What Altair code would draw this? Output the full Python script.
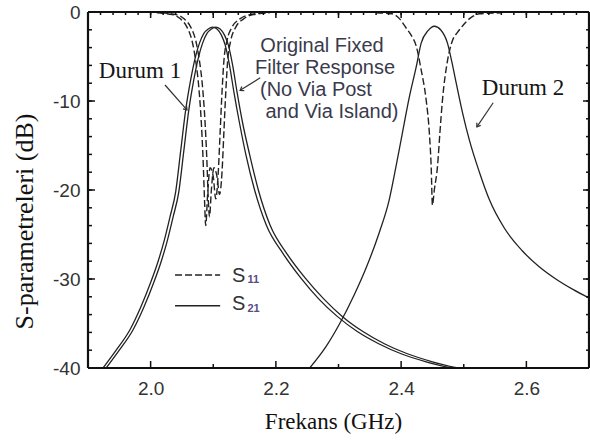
import altair as alt
import pandas as pd

# ---------------- data ----------------
# Durum 1, S21 (solid)
d1_s21_f = [1.924, 1.945, 1.967, 1.984, 2.000, 2.012, 2.022, 2.031, 2.040, 2.048, 2.056, 2.064,
            2.071, 2.078, 2.085, 2.092, 2.099, 2.106, 2.113, 2.119, 2.126, 2.133, 2.142, 2.152,
            2.166, 2.185, 2.212, 2.240, 2.268, 2.298, 2.330, 2.365, 2.400, 2.440, 2.480]
d1_s21_db = [-40.0, -38.0, -35.7, -33.2, -30.4, -28.0, -25.6, -23.0, -20.2, -15.6, -11.0, -7.6,
             -5.2, -3.5, -2.4, -1.9, -1.7, -1.9, -2.6, -3.7, -6.0, -9.0, -12.5, -16.0,
             -20.0, -24.0, -27.2, -29.9, -32.2, -34.2, -35.9, -37.3, -38.4, -39.3, -40.0]
# Original fixed filter, S21 (solid)
or_s21_f = [1.929, 1.950, 1.972, 1.989, 2.005, 2.017, 2.027, 2.036, 2.045, 2.053, 2.061, 2.069,
            2.076, 2.083, 2.090, 2.097, 2.104, 2.111, 2.118, 2.124, 2.131, 2.138, 2.147, 2.158,
            2.172, 2.191, 2.218, 2.247, 2.276, 2.306, 2.339, 2.374, 2.410, 2.450, 2.490]
or_s21_db = [-40.0, -38.0, -35.7, -33.2, -30.4, -28.0, -25.6, -23.0, -20.2, -15.6, -11.0, -7.6,
             -5.2, -3.5, -2.4, -1.9, -1.7, -1.9, -2.6, -3.7, -6.0, -9.0, -12.5, -16.0,
             -20.0, -24.0, -27.2, -29.9, -32.2, -34.2, -35.9, -37.3, -38.4, -39.3, -40.0]
# Durum 2, S21 (solid)
d2_s21_f = [2.254, 2.280, 2.302, 2.325, 2.345, 2.365, 2.381, 2.392, 2.402, 2.413, 2.424, 2.432,
            2.443, 2.453, 2.463, 2.474, 2.481, 2.488, 2.498, 2.509, 2.525, 2.541, 2.565, 2.593,
            2.620, 2.647, 2.675, 2.702]
d2_s21_db = [-40.0, -37.6, -35.0, -31.8, -28.6, -24.8, -21.1, -17.3, -13.6, -9.6, -6.2, -3.5,
             -2.1, -1.6, -2.0, -3.5, -5.6, -8.0, -11.3, -14.4, -18.0, -21.1, -24.3, -26.8,
             -28.6, -30.0, -31.2, -32.2]
# Durum 1, S11 (dashed)
d1_s11_f = [2.010, 2.035, 2.048, 2.058, 2.066, 2.072, 2.077, 2.081, 2.084, 2.086, 2.088, 2.091,
            2.095, 2.100, 2.104, 2.108, 2.111, 2.114, 2.117, 2.122, 2.130, 2.142, 2.158, 2.185]
d1_s11_db = [-0.1, -0.3, -0.8, -1.7, -3.2, -5.5, -8.5, -12.5, -17.0, -21.0, -24.0, -20.5,
             -17.5, -18.5, -21.0, -18.0, -13.5, -9.0, -5.5, -3.2, -1.7, -0.8, -0.3, -0.1]
# Original fixed filter, S11 (dashed)
or_s11_f = [2.016, 2.041, 2.054, 2.064, 2.072, 2.078, 2.083, 2.087, 2.090, 2.092, 2.094, 2.097,
            2.101, 2.106, 2.110, 2.114, 2.117, 2.120, 2.123, 2.128, 2.136, 2.148, 2.164, 2.190]
or_s11_db = [-0.1, -0.3, -0.8, -1.7, -3.2, -5.5, -8.5, -12.5, -17.0, -21.0, -23.0, -20.0,
             -17.5, -18.5, -20.5, -18.0, -13.5, -9.0, -5.5, -3.2, -1.7, -0.8, -0.3, -0.1]
# Durum 2, S11 (dashed)
d2_s11_f = [2.360, 2.385, 2.398, 2.408, 2.416, 2.424, 2.432, 2.440, 2.445, 2.448, 2.450, 2.453,
            2.458, 2.462, 2.466, 2.474, 2.482, 2.490, 2.500, 2.512, 2.525, 2.560]
d2_s11_db = [-0.1, -0.2, -0.8, -1.8, -2.6, -3.8, -6.5, -9.9, -13.5, -17.4, -21.7, -20.0,
             -17.4, -13.5, -9.9, -5.5, -3.2, -2.3, -1.4, -0.6, -0.2, -0.1]

x_tick_labels = [2.0, 2.2, 2.4, 2.6]
x_minor = [2.1, 2.3, 2.5]
y_tick_labels = [0, -10, -20, -30, -40]

# annotations
note_text = ["Original Fixed", "Filter Response", "(No Via Post", "and Via Island)"]
note_f = [2.2737, 2.2785, 2.2640, 2.2896]
note_db = [-4.49, -6.97, -9.44, -11.91]
case_text = ["Durum 1", "Durum 2"]
case_f = [1.983, 2.5946]
case_db = [-7.42, -9.33]
arrow_f0 = [2.023, 2.175, 2.547]
arrow_db0 = [-8.2, -7.4, -10.2]
arrow_f1 = [2.058, 2.143, 2.521]
arrow_db1 = [-11.0, -8.8, -12.9]
arrow_angle = [49, 149, 124]

# ---------------- layout ----------------
W, H = 501, 356
XD = [1.9, 2.7]
YD = [-40, 0]
PX_X = (XD[1] - XD[0]) / W     # GHz per pixel
PX_Y = (YD[1] - YD[0]) / H     # dB per pixel
LINE = "#222222"
SANS = "Liberation Sans"
SERIF = "Liberation Serif"

xaxis = alt.Axis(values=x_tick_labels, format=".1f", ticks=False, domain=False, grid=False,
                 labelFont=SANS, labelFontSize=19, labelColor="#333333", labelPadding=11,
                 title="Frekans (GHz)", titleFont=SERIF, titleFontSize=23, titleFontWeight="normal",
                 titleColor="#111111", titleX=245, titleY=60, titleAlign="center",
                 titleBaseline="alphabetic")
yaxis = alt.Axis(values=y_tick_labels, labelExpr="'' + datum.value", ticks=False, domain=False,
                 grid=False, labelFont=SANS, labelFontSize=19, labelColor="#333333", labelPadding=8,
                 title="S-parametreleri (dB)", titleFont=SERIF, titleFontSize=26,
                 titleFontWeight="normal", titleColor="#111111", titleX=-56, titleY=209,
                 titleAlign="center", titleBaseline="alphabetic", titleAngle=-90)


def X(field="f"):
    return alt.X(f"{field}:Q", scale=alt.Scale(domain=XD, nice=False, zero=False), axis=xaxis)


def Y(field="db"):
    return alt.Y(f"{field}:Q", scale=alt.Scale(domain=YD, nice=False, zero=False), axis=yaxis)


def series(name, f, db):
    return pd.DataFrame({"f": f, "db": db, "s": name})


solid = pd.concat([series("d1", d1_s21_f, d1_s21_db), series("or", or_s21_f, or_s21_db),
                   series("d2", d2_s21_f, d2_s21_db)])
dashed = pd.concat([series("d1", d1_s11_f, d1_s11_db), series("or", or_s11_f, or_s11_db),
                    series("d2", d2_s11_f, d2_s11_db)])

solid_layer = alt.Chart(solid).mark_line(interpolate="monotone", clip=True, strokeWidth=1.3,
                                         color=LINE).encode(x=X(), y=Y(), detail="s:N")
dashed_layer = alt.Chart(dashed).mark_line(interpolate="monotone", clip=True, strokeWidth=1.4,
                                           color=LINE, strokeDash=[7, 3]).encode(
    x=X(), y=Y(), detail="s:N")

# ---------------- frame and inward tick marks ----------------
x_top_minor = [round(1.9 + 0.02 * i, 2) for i in range(41)]
y_minor = [-2 * i for i in range(21)]

rows = []
for v in x_tick_labels:
    rows.append((v, YD[0], v, YD[0] + 7 * PX_Y))
    rows.append((v, YD[1], v, YD[1] - 6 * PX_Y))
for v in x_minor:
    rows.append((v, YD[0], v, YD[0] + 4 * PX_Y))
    rows.append((v, YD[1], v, YD[1] - 6 * PX_Y))
for v in x_top_minor:
    rows.append((v, YD[1], v, YD[1] - 3 * PX_Y))
for v in y_tick_labels:
    rows.append((XD[0], v, XD[0] + 7 * PX_X, v))
    rows.append((XD[1], v, XD[1] - 6 * PX_X, v))
for v in y_minor:
    rows.append((XD[0], v, XD[0] + 4 * PX_X, v))
    rows.append((XD[1], v, XD[1] - 3 * PX_X, v))
tick_df = pd.DataFrame(rows, columns=["f", "db", "f1", "db1"])
ticks = alt.Chart(tick_df).mark_rule(color="#111111", strokeWidth=1.5).encode(
    x=X(), y=Y(), x2="f1:Q", y2="db1:Q")

frame_df = pd.DataFrame({
    "f": [XD[0], XD[0], XD[0], XD[1]],
    "db": [YD[0], YD[1], YD[0], YD[0]],
    "f1": [XD[1], XD[1], XD[0], XD[1]],
    "db1": [YD[0], YD[1], YD[1], YD[1]],
})
frame = alt.Chart(frame_df).mark_rule(color="#111111", strokeWidth=2.2).encode(
    x=X(), y=Y(), x2="f1:Q", y2="db1:Q")

# ---------------- annotations ----------------
note_df = pd.DataFrame({"f": note_f, "db": note_db, "t": note_text})
notes = alt.Chart(note_df).mark_text(font=SANS, fontSize=20, color="#3a3a4c", align="center",
                                      baseline="alphabetic").encode(x=X(), y=Y(), text="t:N")
case_df = pd.DataFrame({"f": case_f, "db": case_db, "t": case_text})
cases = alt.Chart(case_df).mark_text(font=SERIF, fontSize=23, color="#151515", align="center",
                                      baseline="alphabetic").encode(x=X(), y=Y(), text="t:N")
arrow_df = pd.DataFrame({"f": arrow_f0, "db": arrow_db0, "f1": arrow_f1, "db1": arrow_db1,
                         "ang": arrow_angle})
arrow_lines = alt.Chart(arrow_df).mark_rule(color="#333333", strokeWidth=1.2).encode(
    x=X(), y=Y(), x2="f1:Q", y2="db1:Q")
arrow_heads = alt.Chart(arrow_df).mark_point(shape="M -1 -0.7 L 0 0 L -1 0.7", filled=False,
                                             color="#333333", strokeWidth=1.3, size=45,
                                             opacity=1).encode(
    x=X("f1"), y=Y("db1"), angle=alt.Angle("ang:Q", scale=None))

# ---------------- legend ----------------
leg_line_df = pd.DataFrame({"f": [2.039, 2.039], "f1": [2.111, 2.111], "db": [-29.55, -33.0],
                            "k": ["S11", "S21"]})
leg_dash = alt.Chart(leg_line_df[leg_line_df.k == "S11"]).mark_rule(
    color=LINE, strokeWidth=1.6, strokeDash=[7, 3]).encode(x=X(), x2="f1:Q", y=Y())
leg_solid = alt.Chart(leg_line_df[leg_line_df.k == "S21"]).mark_rule(
    color=LINE, strokeWidth=1.6).encode(x=X(), x2="f1:Q", y=Y())
leg_s_df = pd.DataFrame({"f": [2.130, 2.130], "db": [-30.3, -33.5], "t": ["S", "S"]})
leg_s = alt.Chart(leg_s_df).mark_text(font=SANS, fontSize=20, color="#333333", align="left",
                                      baseline="alphabetic").encode(x=X(), y=Y(), text="t:N")
leg_sub_df = pd.DataFrame({"f": [2.1545, 2.1545], "db": [-30.45, -33.7], "t": ["11", "21"]})
leg_sub = alt.Chart(leg_sub_df).mark_text(font=SANS, fontSize=11, fontWeight="bold",
                                          color="#5b4a86", align="left",
                                          baseline="alphabetic").encode(x=X(), y=Y(), text="t:N")

chart = alt.layer(
    solid_layer, dashed_layer, ticks, frame, notes, cases, arrow_lines, arrow_heads,
    leg_dash, leg_solid, leg_s, leg_sub
).properties(
    width=W, height=H,
    autosize=alt.AutoSizeParams(type="none"),
    padding={"left": 88, "top": 12, "right": 1, "bottom": 79},
    background="white",
).configure_view(stroke=None)

chart.save("out.html", embed_options={"renderer": "svg", "actions": False})
